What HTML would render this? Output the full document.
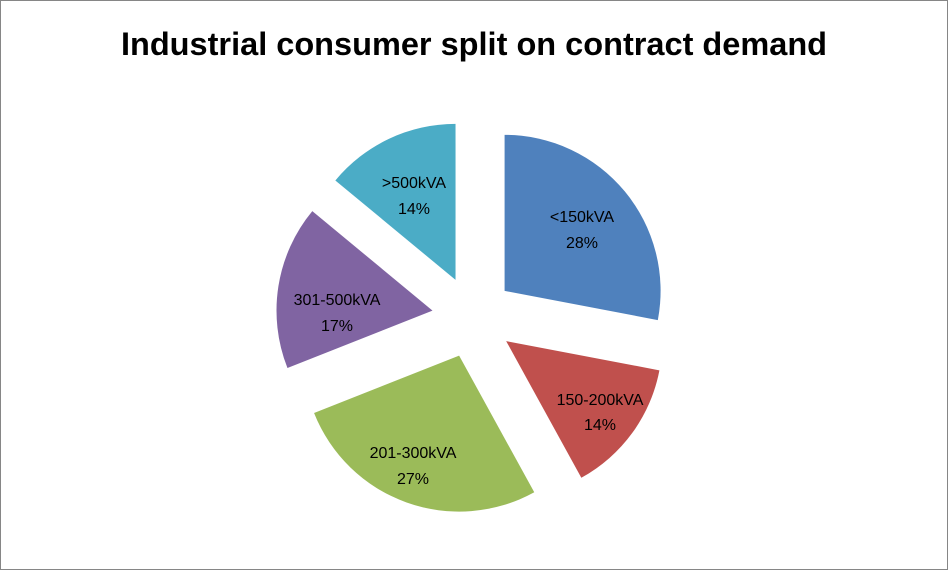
<!DOCTYPE html>
<html><head><meta charset="utf-8"><style>
html,body{margin:0;padding:0;background:#fff;}
svg{display:block;}
text{font-family:"Liberation Sans",sans-serif;}
</style></head><body>
<svg id="s" width="948" height="570" xmlns="http://www.w3.org/2000/svg">
<rect x="0.5" y="0.5" width="947" height="569" fill="#fff" stroke="#868686"/>
<text x="474" y="55" text-anchor="middle" font-size="32.5" font-weight="bold" fill="#000">Industrial consumer split on contract demand</text>
<g id="p"></g>
<g font-size="16" fill="#000" text-anchor="middle">
<text x="582" y="222">&lt;150kVA</text><text x="582" y="248">28%</text>
<text x="600" y="405">150-200kVA</text><text x="600" y="430">14%</text>
<text x="413" y="458">201-300kVA</text><text x="413" y="484">27%</text>
<text x="337" y="305">301-500kVA</text><text x="337" y="331">17%</text>
<text x="414" y="188">&gt;500kVA</text><text x="414" y="214">14%</text>
</g>
</svg>
<script>
var cx=473,cy=317,r=156,d=41;
var data=[[28,"#4F81BD"],[14,"#C0504D"],[27,"#9BBB59"],[17,"#8064A2"],[14,"#4BACC6"]];
var a=0,h="";
function pt(x,y,ang,rr){var t=ang*Math.PI/180;return [x+rr*Math.sin(t),y-rr*Math.cos(t)];}
data.forEach(function(e){
var s=a,en=a+e[0]*3.6,m=(s+en)/2;a=en;
var c=pt(cx,cy,m,d),p1=pt(c[0],c[1],s,r),p2=pt(c[0],c[1],en,r);
h+='<path d="M'+c[0]+','+c[1]+' L'+p1[0]+','+p1[1]+' A'+r+','+r+' 0 '+((en-s)>180?1:0)+' 1 '+p2[0]+','+p2[1]+' Z" fill="'+e[1]+'"/>';
});
document.getElementById("p").innerHTML=h;
</script>
</body></html>
